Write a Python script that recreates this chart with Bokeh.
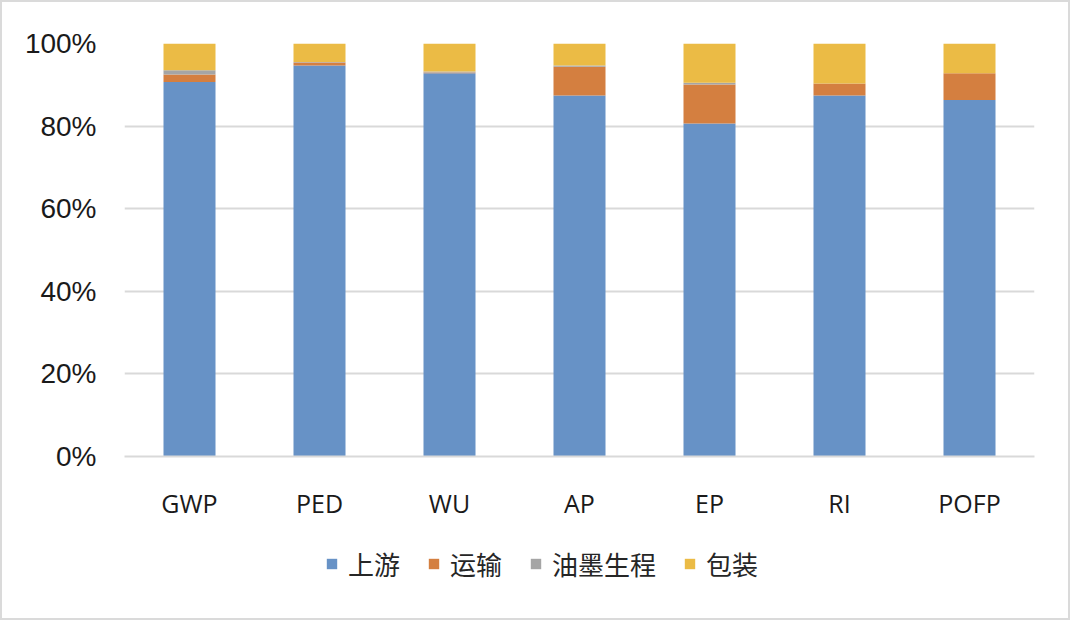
from bokeh.plotting import figure
from bokeh.layouts import column
from bokeh.models import ColumnDataSource, Legend, LegendItem, FixedTicker, PrintfTickFormatter, Range1d, FactorRange
from bokeh.embed import file_html
from bokeh.resources import INLINE

categories = ["GWP", "PED", "WU", "AP", "EP", "RI", "POFP"]
upstream = [90.7, 94.7, 92.8, 87.4, 80.6, 87.4, 86.3]
transport = [1.8, 0.7, 0.2, 7.0, 9.5, 2.9, 6.5]
ink = [1.0, 0.1, 0.2, 0.3, 0.4, 0.0, 0.0]
packaging = [6.5, 4.5, 6.8, 5.3, 9.5, 9.7, 7.2]
series_names = ["上游", "运输", "油墨生程", "包装"]
y_ticks = [0, 20, 40, 60, 80, 100]

colors = ["#6792C6", "#D47F40", "#A5A5A5", "#EBBB45"]
keys = ["upstream", "transport", "ink", "packaging"]

source = ColumnDataSource(dict(cat=categories, upstream=upstream, transport=transport,
                               ink=ink, packaging=packaging))

W = 1066
HP, HL = 520, 96
FRAME_LEFT = 122
p = figure(x_range=categories, width=W, height=HP, output_backend="svg", toolbar_location=None,
           min_border_left=FRAME_LEFT, min_border_right=W - FRAME_LEFT - 910, min_border_top=41,
           min_border_bottom=HP - 41 - 419)
p.y_range = Range1d(0, 100)

renderers = p.vbar_stack(keys, x="cat", width=0.4, color=colors, line_color=None, source=source)

p.outline_line_color = None
p.xgrid.grid_line_color = None
p.ygrid.grid_line_color = "#D9D9D9"
p.ygrid.grid_line_width = 2
p.ygrid.ticker = FixedTicker(ticks=y_ticks)

p.yaxis.ticker = FixedTicker(ticks=y_ticks)
p.yaxis.formatter = PrintfTickFormatter(format="%d%%")
p.yaxis.axis_line_color = None
p.yaxis.major_tick_line_color = None
p.yaxis.minor_tick_line_color = None
p.yaxis.major_label_text_font = "Liberation Sans"
p.yaxis.major_label_text_font_size = "28px"
p.yaxis.major_label_text_color = "#1A1A1A"
p.yaxis.major_label_standoff = 22

p.xaxis.axis_line_color = "#D9D9D9"
p.xaxis.axis_line_width = 2
p.xaxis.major_tick_line_color = None
p.xaxis.minor_tick_line_color = None
p.xaxis.major_label_text_font = "Open Sans"
p.xaxis.major_label_text_font_size = "25px"
p.xaxis.major_label_text_color = "#1A1A1A"
p.xaxis.major_label_standoff = 23

# legend strip below the chart (its frame is aligned with the main frame by the column layout);
# it repeats the same stacked bars, hidden, only to carry the legend swatches
pl = figure(width=W, height=HL, output_backend="svg", toolbar_location=None,
            x_range=FactorRange(*categories), y_range=Range1d(0, 100),
            x_axis_location=None, y_axis_location=None,
            min_border=0, outline_line_color=None)
pl.grid.visible = False
swatches = pl.vbar_stack(keys, x="cat", width=0.4, color=colors, line_color=None, source=source)
for r in swatches:
    r.visible = False
items = [LegendItem(label=n, renderers=[r]) for n, r in zip(series_names, swatches)]
legend = Legend(items=items, orientation="horizontal", location=(323 - FRAME_LEFT, 36),
                border_line_color=None, background_fill_alpha=0, padding=0, margin=0,
                glyph_width=13, glyph_height=13, label_standoff=10, spacing=27,
                inactive_fill_alpha=0, click_policy="none",
                label_text_font="Noto Sans CJK SC", label_text_font_size="26px",
                label_text_color="#262626")
pl.add_layout(legend, "center")

layout = column(p, pl, spacing=0, styles={"border": "2px solid #DADADA"})

open("out.html", "w").write(file_html(layout, INLINE))
